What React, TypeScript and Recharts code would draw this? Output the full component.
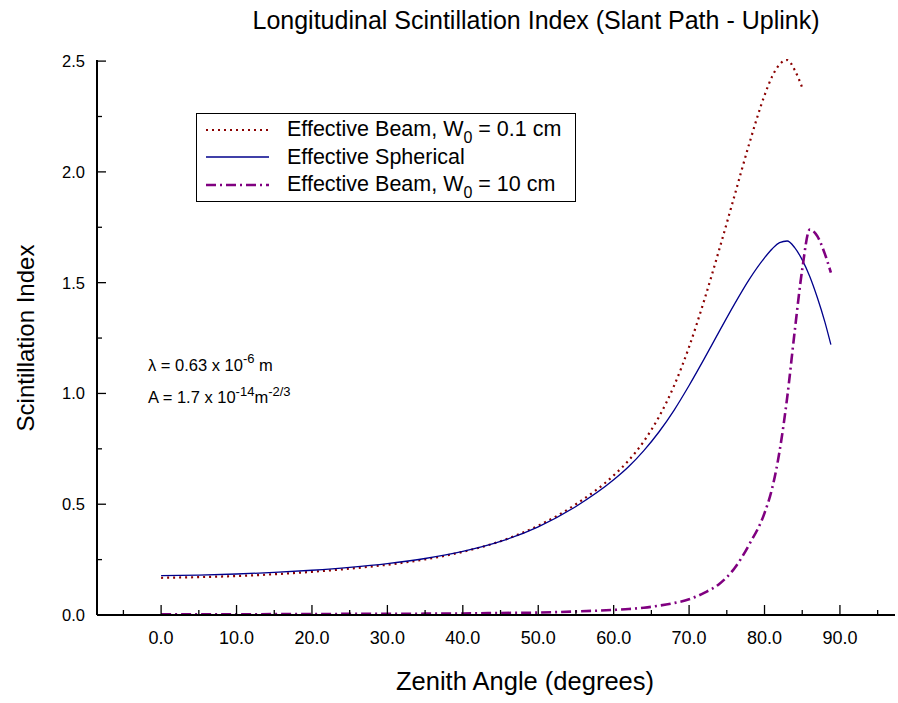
import { LineChart, Line, XAxis, YAxis, Legend } from "recharts";

// zenith angle, degrees
const angles = [0, 5, 10, 15, 20, 25, 30, 35, 40, 45, 50, 55, 60, 62, 64, 66, 68, 70, 72, 74, 76, 78, 80, 81, 82, 83, 84, 85, 86, 87, 88, 88.8];

// effective beam, W0 = 0.1 cm (stops at ~85 deg)
const beamNarrow = [0.168, 0.171, 0.176, 0.184, 0.195, 0.209, 0.227, 0.251, 0.285, 0.333, 0.403, 0.5, 0.63, 0.698, 0.784, 0.894, 1.034, 1.21, 1.42, 1.65, 1.89, 2.13, 2.345, 2.43, 2.485, 2.505, 2.46, 2.38, null, null, null, null];

// effective spherical
const spherical = [0.178, 0.18, 0.185, 0.192, 0.202, 0.215, 0.232, 0.255, 0.287, 0.332, 0.398, 0.49, 0.61, 0.67, 0.742, 0.826, 0.924, 1.036, 1.156, 1.28, 1.402, 1.516, 1.612, 1.652, 1.681, 1.688, 1.658, 1.603, 1.528, 1.433, 1.323, 1.22];

// effective beam, W0 = 10 cm
const beamWide = [0.003, 0.003, 0.003, 0.004, 0.004, 0.005, 0.005, 0.006, 0.007, 0.009, 0.011, 0.016, 0.023, 0.027, 0.033, 0.042, 0.054, 0.071, 0.1, 0.14, 0.21, 0.32, 0.46, 0.57, 0.74, 0.98, 1.28, 1.56, 1.74, 1.71, 1.63, 1.545];

const xTicks = [-5, 0, 5, 10, 15, 20, 25, 30, 35, 40, 45, 50, 55, 60, 65, 70, 75, 80, 85, 90, 95];
const yTicks = [0, 0.25, 0.5, 0.75, 1, 1.25, 1.5, 1.75, 2, 2.25, 2.5];

const data = angles.map((a, i) => ({
  angle: a,
  narrow: beamNarrow[i],
  spherical: spherical[i],
  wide: beamWide[i],
}));

const FONT = "Arial, 'Liberation Sans', Helvetica, sans-serif";

const series = [
  { key: "narrow", color: "#8b0000", width: 2.2, dash: "2 4", label: "Effective Beam, W", sub: "0", rest: " = 0.1 cm" },
  { key: "spherical", color: "#00008b", width: 1.3, dash: undefined, label: "Effective Spherical", sub: "", rest: "" },
  { key: "wide", color: "#800080", width: 2.6, dash: "10 4 2 4", label: "Effective Beam, W", sub: "0", rest: " = 10 cm" },
];

function XTick(props: any) {
  const { x, y, payload } = props;
  const v = payload.value;
  const major = v % 10 === 0 && v >= 0 && v <= 90;
  return (
    <g>
      <line x1={x} x2={x} y1={y} y2={y - (major ? 10 : 5)} stroke="#000" strokeWidth={1.3} />
      {major && (
        <text
          x={x}
          y={y + 29}
          textAnchor="middle"
          fontFamily="'Liberation Sans Narrow', 'Arial Narrow', sans-serif"
          fontSize={18}
          fill="#000"
        >
          {v.toFixed(1)}
        </text>
      )}
    </g>
  );
}

function YTick(props: any) {
  const { x, y, payload } = props;
  const v = payload.value;
  const major = Math.abs(v * 2 - Math.round(v * 2)) < 1e-6;
  return (
    <g>
      <line x1={x} x2={x + (major ? 9 : 5)} y1={y} y2={y} stroke="#000" strokeWidth={1.3} />
      {major && (
        <text x={x - 12} y={y + 6} textAnchor="end" fontFamily={FONT} fontSize={16.5} fill="#000">
          {v.toFixed(1)}
        </text>
      )}
    </g>
  );
}

function LegendBox() {
  return (
    <div
      style={{
        width: 380,
        height: 89,
        boxSizing: "border-box",
        border: "1px solid #000",
        background: "#fff",
        paddingTop: 2,
        fontFamily: FONT,
        fontSize: 21.5,
        color: "#000",
      }}
    >
      {series.map((s) => (
        <div key={s.key} style={{ display: "flex", alignItems: "center", height: 27.5 }}>
          <svg width={90} height={10} style={{ flex: "none" }}>
            <line x1={9} x2={72} y1={5} y2={5} stroke={s.color} strokeWidth={s.width} strokeDasharray={s.dash} />
          </svg>
          <span style={{ whiteSpace: "nowrap", lineHeight: "24px" }}>
            {s.label}
            {s.sub && <span style={{ fontSize: 16, position: "relative", top: 7 }}>{s.sub}</span>}
            {s.rest}
          </span>
        </div>
      ))}
    </div>
  );
}

export default function App() {
  return (
    <div style={{ position: "absolute", left: 0, top: 0, width: 898, height: 703, background: "#fff", fontFamily: FONT }}>
      <LineChart width={898} height={703} data={data} margin={{ top: 60, right: 3, bottom: 48, left: 37 }}>
        <XAxis
          dataKey="angle"
          type="number"
          domain={[-8.5, 97.3]}
          allowDataOverflow
          ticks={xTicks}
          interval={0}
          tickSize={0}
          tickMargin={0}
          tickLine={false}
          height={40}
          tick={<XTick />}
          axisLine={{ stroke: "#000", strokeWidth: 2 }}
        />
        <YAxis
          type="number"
          domain={[0, 2.5]}
          ticks={yTicks}
          interval={0}
          tickSize={0}
          tickMargin={0}
          tickLine={false}
          width={60}
          tick={<YTick />}
          axisLine={{ stroke: "#000", strokeWidth: 2 }}
        />
        <Legend
          layout="vertical"
          align="center"
          verticalAlign="middle"
          wrapperStyle={{ left: 196, top: 113, width: 380 }}
          content={() => <LegendBox />}
        />
        {series.map((s) => (
          <Line
            key={s.key}
            type="monotone"
            dataKey={s.key}
            stroke={s.color}
            strokeWidth={s.width}
            strokeDasharray={s.dash}
            dot={false}
            activeDot={false}
            isAnimationActive={false}
          />
        ))}
      </LineChart>

      <div style={{ position: "absolute", left: 136, width: 800, top: 6, textAlign: "center", fontSize: 25 }}>
        Longitudinal Scintillation Index (Slant Path - Uplink)
      </div>
      <div
        style={{
          position: "absolute",
          left: 26,
          top: 338,
          transform: "translate(-50%, -50%) rotate(-90deg)",
          whiteSpace: "nowrap",
          fontSize: 24,
        }}
      >
        Scintillation Index
      </div>
      <div style={{ position: "absolute", left: 325, width: 400, top: 667, textAlign: "center", fontSize: 25.5 }}>
        Zenith Angle (degrees)
      </div>
      <div style={{ position: "absolute", left: 148, top: 356, fontSize: 16.5, whiteSpace: "nowrap" }}>
        λ = 0.63 x 10<span style={{ fontSize: 13, position: "relative", top: -8 }}>-6</span> m
      </div>
      <div style={{ position: "absolute", left: 148, top: 388, fontSize: 16.5, whiteSpace: "nowrap" }}>
        A = 1.7 x 10<span style={{ fontSize: 13, position: "relative", top: -7 }}>-14</span>m
        <span style={{ fontSize: 13, position: "relative", top: -7 }}>-2/3</span>
      </div>
    </div>
  );
}
